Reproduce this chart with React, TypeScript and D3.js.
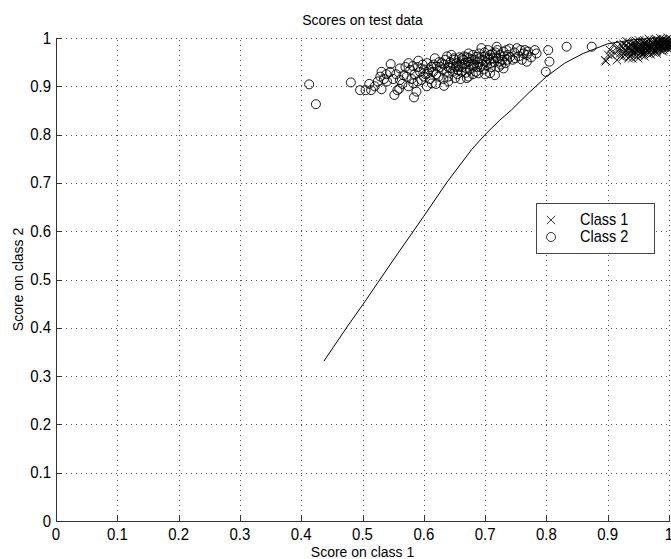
import React from "react";
import * as d3 from "d3";

const xTicks = [0, 0.1, 0.2, 0.3, 0.4, 0.5, 0.6, 0.7, 0.8, 0.9, 1];
const yTicks = [0, 0.1, 0.2, 0.3, 0.4, 0.5, 0.6, 0.7, 0.8, 0.9, 1];
const tickLabels = ["0", "0.1", "0.2", "0.3", "0.4", "0.5", "0.6", "0.7", "0.8", "0.9", "1"];

const curve: [number, number][] = [
  [0.437, 0.331], [0.476, 0.404], [0.5, 0.447], [0.55, 0.54], [0.6, 0.631],
  [0.637, 0.7], [0.678, 0.769], [0.7, 0.8], [0.724, 0.83], [0.743, 0.851],
  [0.77, 0.885], [0.8, 0.92], [0.83, 0.948], [0.86, 0.968], [0.9, 0.988],
  [0.94, 0.996], [0.98, 1.0], [1.0, 1.0],
];

const class2: [number, number][] = [
  [0.413, 0.904], [0.424, 0.863], [0.481, 0.908], [0.496, 0.892], [0.505, 0.892],
  [0.514, 0.892], [0.511, 0.905], [0.531, 0.894], [0.529, 0.92], [0.531, 0.93],
  [0.546, 0.946], [0.539, 0.925], [0.55, 0.915], [0.552, 0.882], [0.557, 0.892],
  [0.561, 0.937], [0.567, 0.923], [0.561, 0.913], [0.575, 0.948], [0.578, 0.934],
  [0.572, 0.92], [0.583, 0.906], [0.591, 0.953], [0.588, 0.889], [0.584, 0.877],
  [0.594, 0.93], [0.596, 0.913], [0.605, 0.948], [0.607, 0.927], [0.613, 0.906],
  [0.618, 0.958], [0.621, 0.941], [0.624, 0.92], [0.633, 0.901], [0.629, 0.948],
  [0.637, 0.93], [0.645, 0.965], [0.648, 0.944], [0.651, 0.917], [0.656, 0.934],
  [0.662, 0.958], [0.667, 0.948], [0.673, 0.92], [0.673, 0.968], [0.681, 0.941],
  [0.686, 0.961], [0.689, 0.927],
  [0.694, 0.979], [0.708, 0.965], [0.719, 0.982], [0.724, 0.951], [0.735, 0.975],
  [0.741, 0.961], [0.752, 0.979], [0.765, 0.975], [0.768, 0.965], [0.768, 0.951],
  [0.708, 0.927], [0.716, 0.923], [0.703, 0.944], [0.73, 0.937], [0.749, 0.958],
  [0.781, 0.975], [0.784, 0.968], [0.803, 0.975], [0.805, 0.951], [0.799, 0.93],
  [0.833, 0.982], [0.874, 0.982], [0.67, 0.917],
  [0.555, 0.925], [0.565, 0.905], [0.57, 0.94], [0.58, 0.915], [0.585, 0.925],
  [0.59, 0.94], [0.6, 0.92], [0.6, 0.935], [0.61, 0.915], [0.612, 0.94],
  [0.615, 0.93], [0.62, 0.925], [0.625, 0.95], [0.63, 0.935], [0.632, 0.915],
  [0.635, 0.955], [0.64, 0.94], [0.64, 0.92], [0.643, 0.95], [0.647, 0.93],
  [0.65, 0.955], [0.652, 0.94], [0.655, 0.925], [0.658, 0.96], [0.66, 0.945],
  [0.662, 0.93], [0.665, 0.955], [0.668, 0.938], [0.67, 0.96], [0.672, 0.95],
  [0.675, 0.935], [0.678, 0.955], [0.68, 0.965], [0.682, 0.945], [0.685, 0.93],
  [0.688, 0.95], [0.69, 0.968], [0.692, 0.94], [0.695, 0.955], [0.698, 0.935],
  [0.7, 0.962], [0.702, 0.95], [0.705, 0.975], [0.707, 0.955], [0.71, 0.94],
  [0.712, 0.968], [0.715, 0.95], [0.718, 0.96], [0.72, 0.975], [0.722, 0.94],
  [0.725, 0.965], [0.728, 0.955], [0.73, 0.972], [0.733, 0.948], [0.737, 0.965],
  [0.74, 0.978], [0.745, 0.955], [0.748, 0.97], [0.755, 0.962], [0.758, 0.975],
  [0.76, 0.955], [0.763, 0.968], [0.77, 0.972], [0.775, 0.96],
  [0.54, 0.91], [0.545, 0.93], [0.535, 0.915], [0.52, 0.9], [0.525, 0.91],
  [0.56, 0.895], [0.575, 0.9], [0.59, 0.91], [0.605, 0.9], [0.62, 0.905],
  [0.64, 0.91], [0.66, 0.915], [0.68, 0.925], [0.7, 0.925],
  [0.627, 0.94], [0.633, 0.945], [0.638, 0.962], [0.644, 0.938], [0.649, 0.958],
  [0.654, 0.948], [0.657, 0.94], [0.663, 0.94], [0.666, 0.962], [0.669, 0.928],
  [0.674, 0.958], [0.677, 0.945], [0.683, 0.955], [0.687, 0.94], [0.691, 0.958],
  [0.696, 0.945], [0.699, 0.97], [0.704, 0.958], [0.709, 0.948], [0.713, 0.958],
  [0.717, 0.97], [0.721, 0.958], [0.726, 0.945], [0.731, 0.962], [0.736, 0.955],
  [0.598, 0.945], [0.603, 0.925], [0.609, 0.935], [0.616, 0.945], [0.582, 0.942],
];

const class1: [number, number][] = [
  [0.897, 0.952], [0.904, 0.975], [0.906, 0.965], [0.915, 0.954], [0.92, 0.968],
  [0.925, 0.979], [0.934, 0.958], [0.947, 0.961], [0.955, 0.965], [0.896, 0.954],
  [0.901, 0.965], [0.912, 0.968], [0.925, 0.961], [0.909, 0.986],
  [0.93, 0.972], [0.93, 0.985], [0.935, 0.968], [0.935, 0.98], [0.935, 0.99],
  [0.94, 0.975], [0.94, 0.983], [0.94, 0.965], [0.945, 0.97], [0.945, 0.978],
  [0.945, 0.988], [0.95, 0.972], [0.95, 0.98], [0.95, 0.99], [0.95, 0.965],
  [0.955, 0.975], [0.955, 0.985], [0.955, 0.97], [0.96, 0.978], [0.96, 0.988],
  [0.96, 0.97], [0.96, 0.995], [0.965, 0.975], [0.965, 0.982], [0.965, 0.992],
  [0.965, 0.968], [0.97, 0.98], [0.97, 0.987], [0.97, 0.973], [0.97, 0.995],
  [0.975, 0.978], [0.975, 0.985], [0.975, 0.992], [0.975, 0.97], [0.98, 0.982],
  [0.98, 0.99], [0.98, 0.975], [0.98, 0.997], [0.985, 0.98], [0.985, 0.988],
  [0.985, 0.994], [0.985, 0.976], [0.99, 0.985], [0.99, 0.992], [0.99, 0.978],
  [0.99, 0.998], [0.995, 0.983], [0.995, 0.99], [0.995, 0.996], [1.0, 0.985],
  [1.0, 0.993], [1.0, 0.98], [1.005, 0.988], [1.005, 0.995],
  [0.932, 0.978], [0.938, 0.974], [0.942, 0.99], [0.948, 0.983], [0.952, 0.976],
  [0.958, 0.982], [0.962, 0.984], [0.968, 0.978], [0.972, 0.99], [0.978, 0.983],
  [0.982, 0.986], [0.988, 0.982], [0.992, 0.988], [0.997, 0.986], [0.928, 0.965],
  [0.94, 0.958], [0.95, 0.958], [0.96, 0.962], [0.97, 0.966], [0.98, 0.968],
  [0.99, 0.972], [1.0, 0.975],
  [0.918, 0.975], [0.922, 0.985], [0.927, 0.97], [0.931, 0.993], [0.936, 0.962],
  [0.943, 0.98], [0.946, 0.994], [0.953, 0.985], [0.957, 0.992], [0.959, 0.967],
  [0.963, 0.978], [0.967, 0.998], [0.969, 0.984], [0.973, 0.976], [0.977, 0.996],
  [0.979, 0.972], [0.983, 0.992], [0.986, 0.999], [0.987, 0.984], [0.993, 0.98],
  [0.994, 0.994], [0.998, 0.978], [0.998, 1.0], [1.003, 0.982], [1.003, 0.998],
  [0.933, 0.982], [0.937, 0.986], [0.941, 0.97], [0.944, 0.984], [0.949, 0.976],
  [0.951, 0.995], [0.954, 0.98], [0.956, 0.972], [0.961, 0.99], [0.964, 0.986],
  [0.966, 0.972], [0.971, 0.982], [0.974, 0.988], [0.976, 0.974], [0.981, 0.978],
  [0.984, 0.984], [0.989, 0.99], [0.991, 0.976], [0.996, 0.992], [0.999, 0.982],
  [1.002, 0.99], [1.006, 0.984], [0.926, 0.988], [0.921, 0.962], [0.916, 0.982],
];

const W = 671;
const H = 559;
const L = 56, R = 669, T = 38, B = 521;
const FONT = "'Liberation Sans', Arial, Helvetica, sans-serif";
const SY = 1.1;

function T2(props: { x: number; y: number; anchor?: string; size?: number; children: React.ReactNode; rotate?: boolean }) {
  const { x, y, anchor = "start", size = 14, children, rotate } = props;
  const tr = rotate
    ? `translate(${x},${y}) rotate(-90) scale(1,${SY})`
    : `translate(${x},${y}) scale(1,${SY})`;
  return (
    <text transform={tr} textAnchor={anchor} fontSize={size} fill="#000">
      {children}
    </text>
  );
}

export default function App() {
  const x = d3.scaleLinear().domain([0, 1]).range([L, R]);
  const y = d3.scaleLinear().domain([0, 1]).range([B, T]);
  const line = d3.line<[number, number]>().x((d) => x(d[0])).y((d) => y(d[1]));
  const r = 4.5;
  const c = 4.2;
  const crossPath = (cx: number, cy: number) =>
    `M${cx - c},${cy - c}L${cx + c},${cy + c}M${cx - c},${cy + c}L${cx + c},${cy - c}`;

  return (
    <svg
      width={W}
      height={H}
      style={{ position: "absolute", left: 0, top: 0, background: "#fff" }}
      fontFamily={FONT}
    >
      <rect x={0} y={0} width={W} height={H} fill="#fff" />
      {/* grid */}
      <g stroke="#555" strokeWidth={1} strokeDasharray="1,4">
        {xTicks.slice(1).map((t) => (
          <line key={"gx" + t} x1={Math.round(x(t)) + 0.5} x2={Math.round(x(t)) + 0.5} y1={B} y2={T} />
        ))}
        {yTicks.slice(1).map((t) => (
          <line key={"gy" + t} x1={L} x2={R} y1={Math.round(y(t)) + 0.5} y2={Math.round(y(t)) + 0.5} />
        ))}
      </g>
      {/* axes */}
      <g stroke="#333" strokeWidth={1}>
        <line x1={L + 0.5} x2={L + 0.5} y1={T} y2={B + 0.5} />
        <line x1={L} x2={R + 1} y1={B + 0.5} y2={B + 0.5} />
        {xTicks.map((t) => (
          <line key={"tx" + t} x1={Math.round(x(t)) + 0.5} x2={Math.round(x(t)) + 0.5} y1={B} y2={B - 6} />
        ))}
        {yTicks.map((t) => (
          <line key={"ty" + t} x1={L} x2={L + 6} y1={Math.round(y(t)) + 0.5} y2={Math.round(y(t)) + 0.5} />
        ))}
      </g>
      {/* tick labels */}
      {xTicks.map((t, i) => (
        <T2 key={"lx" + t} x={x(t)} y={B + 19} anchor="middle" size={15}>
          {tickLabels[i]}
        </T2>
      ))}
      {yTicks.map((t, i) => (
        <T2 key={"ly" + t} x={L - 5} y={y(t) + 5.5} anchor="end" size={15}>
          {tickLabels[i]}
        </T2>
      ))}
      {/* curve */}
      <path d={line(curve) || ""} fill="none" stroke="#000" strokeWidth={1} />
      {/* class 2 circles */}
      <g fill="none" stroke="#000" strokeWidth={0.9}>
        {class2.map((d, i) => (
          <circle key={"c" + i} cx={x(d[0])} cy={y(d[1])} r={r} />
        ))}
      </g>
      {/* class 1 crosses */}
      <g fill="none" stroke="#000" strokeWidth={0.9}>
        {class1.map((d, i) => (
          <path key={"x" + i} d={crossPath(x(d[0]), y(d[1]))} />
        ))}
      </g>
      {/* legend */}
      <g>
        <rect x={536.5} y={203.5} width={118} height={50} fill="#fff" stroke="#444" strokeWidth={1} />
        <path d={crossPath(551, 220)} stroke="#000" strokeWidth={0.8} fill="none" />
        <circle cx={551} cy={237} r={r} stroke="#000" strokeWidth={0.8} fill="none" />
        <T2 x={580} y={225} size={14.5}>Class 1</T2>
        <T2 x={580} y={242} size={14.5}>Class 2</T2>
      </g>
      {/* titles */}
      <T2 x={(L + R) / 2} y={25} anchor="middle" size={14}>
        Scores on test data
      </T2>
      <T2 x={(L + R) / 2} y={557} anchor="middle" size={14}>
        Score on class 1
      </T2>
      <T2 x={23} y={(T + B) / 2} anchor="middle" size={14} rotate>
        Score on class 2
      </T2>
    </svg>
  );
}
